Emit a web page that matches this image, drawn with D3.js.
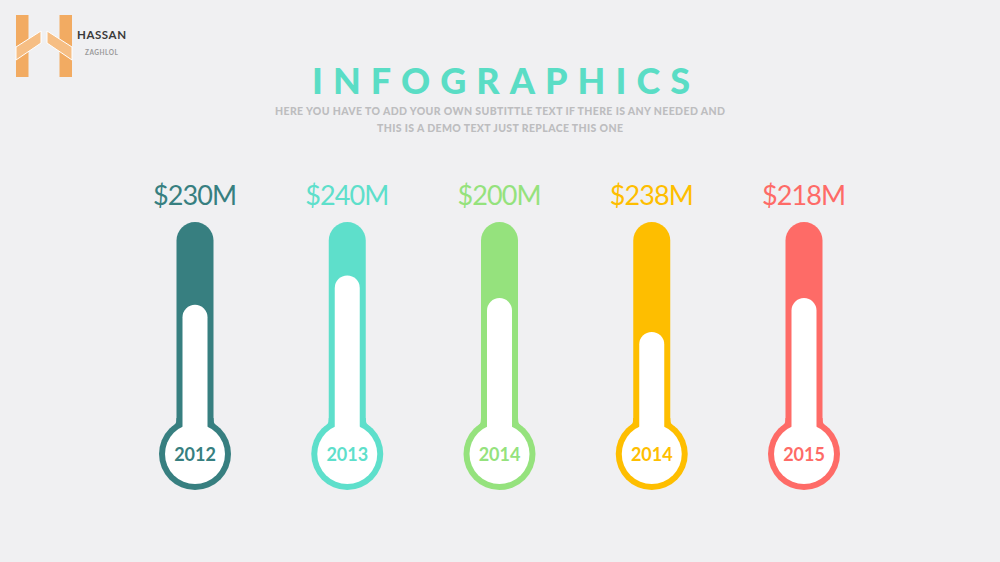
<!DOCTYPE html>
<html><head><meta charset="utf-8">
<script src="https://cdn.jsdelivr.net/npm/d3@7"></script>
<style>html,body{margin:0;padding:0;background:#F0F0F2;} svg{display:block}</style>
</head><body><svg id="c" width="1000" height="562"></svg>
<script>
// ---- data ----
const years = ["2012", "2013", "2014", "2014", "2015"];
const amounts = [230, 240, 200, 238, 218];
const levels = [66, 79, 69, 54, 69]; // height of white column, % of tube
const colors = ["#377F80", "#5EDFCB", "#95E27D", "#FEBE00", "#FE6B67"];
const title = "INFOGRAPHICS";
const subtitleLines = [
  "HERE YOU HAVE TO ADD YOUR OWN SUBTITTLE TEXT IF THERE IS ANY NEEDED AND",
  "THIS IS A DEMO TEXT JUST REPLACE THIS ONE"
];
const brand = "HASSAN";
const brandSub = "ZAGHLOL";

// ---- drawing ----
const svg = d3.select("#c");
svg.append("rect").attr("width", 1000).attr("height", 562).attr("fill", "#F0F0F2");

// logo
const logo = svg.append("g");
const barC = "#F2AB62", bandC = "#F6BE84";
logo.append("rect").attr("x", 16).attr("y", 15).attr("width", 12.5).attr("height", 62).attr("fill", barC);
logo.append("rect").attr("x", 59.5).attr("y", 15).attr("width", 12.5).attr("height", 62).attr("fill", barC);
logo.append("polygon").attr("points", "16,47 41,31 41,43 16,60").attr("fill", bandC).attr("stroke", "#fff").attr("stroke-width", 1);
logo.append("polygon").attr("points", "72,47 47,31 47,43 72,60").attr("fill", bandC).attr("stroke", "#fff").attr("stroke-width", 1);
logo.append("text").attr("x", 77).attr("y", 39).text(brand)
  .attr("font-family", "Lato").attr("font-weight", 700).attr("font-size", 11.5).attr("fill", "#3a3a3a")
  .attr("textLength", 49).attr("lengthAdjust", "spacing");
logo.append("text").attr("x", 85).attr("y", 55).text(brandSub)
  .attr("font-family", "Lato").attr("font-weight", 700).attr("font-size", 6.5).attr("fill", "#9a9a9a")
  .attr("textLength", 33).attr("lengthAdjust", "spacing");

// title
svg.append("text").attr("x", 312).attr("y", 94).text(title)
  .attr("font-family", "Lato").attr("font-weight", 900).attr("font-size", 36).attr("fill", "#5ADDC5")
  .attr("textLength", 378).attr("lengthAdjust", "spacing");
const subX = [275, 377], subW = [450, 246], subY = [115, 131.5];
svg.selectAll("text.sub").data(subtitleLines).join("text").attr("class", "sub")
  .attr("x", (d, i) => subX[i]).attr("y", (d, i) => subY[i]).text(d => d)
  .attr("font-family", "Lato").attr("font-weight", 900).attr("font-size", 10.5).attr("fill", "#BDBDBF")
  .attr("textLength", (d, i) => subW[i]).attr("lengthAdjust", "spacing");

// scales
const x = d3.scalePoint().domain(d3.range(years.length)).range([195, 804]);
const y = d3.scaleLinear().domain([0, 100]).range([454, 228]);
const tubeTop = 222, bulbY = y(0), tubeW = 37, innerW = 25, bulbR = 36, innerR = 30;

const g = svg.selectAll("g.th").data(years.map((yr, i) => ({yr, i, amt: amounts[i], lvl: levels[i], c: colors[i]})))
  .join("g").attr("class", "th").attr("transform", d => `translate(${x(d.i)},0)`);

g.append("rect").attr("x", -tubeW / 2).attr("y", tubeTop).attr("width", tubeW).attr("height", bulbY - tubeTop)
  .attr("rx", tubeW / 2).attr("fill", d => d.c);
// fillet between tube and bulb
g.append("path").attr("d", `M${-tubeW/2 - 5},${bulbY - 27} Q${-tubeW/2},${bulbY - 28} ${-tubeW/2},${bulbY - 36} L${tubeW/2},${bulbY - 36} Q${tubeW/2},${bulbY - 28} ${tubeW/2 + 5},${bulbY - 27} Z`)
  .attr("fill", d => d.c);
g.append("circle").attr("cx", 0).attr("cy", bulbY).attr("r", bulbR).attr("fill", d => d.c);
g.append("circle").attr("cx", 0).attr("cy", bulbY).attr("r", innerR).attr("fill", "#fff");
g.append("rect").attr("x", -innerW / 2).attr("y", d => y(d.lvl)).attr("width", innerW)
  .attr("height", d => bulbY - y(d.lvl)).attr("rx", innerW / 2).attr("fill", "#fff");

g.append("text").attr("x", 0).attr("y", 205).attr("text-anchor", "middle")
  .text(d => `$${d.amt}M`)
  .attr("font-family", "Lato").attr("font-size", 27).attr("fill", d => d.c)
  .attr("textLength", 84).attr("lengthAdjust", "spacing");
g.append("text").attr("x", 0).attr("y", 461).attr("text-anchor", "middle")
  .text(d => d.yr)
  .attr("font-family", "Lato").attr("font-weight", 700).attr("font-size", 18).attr("fill", d => d.c);
</script>
</body></html>
